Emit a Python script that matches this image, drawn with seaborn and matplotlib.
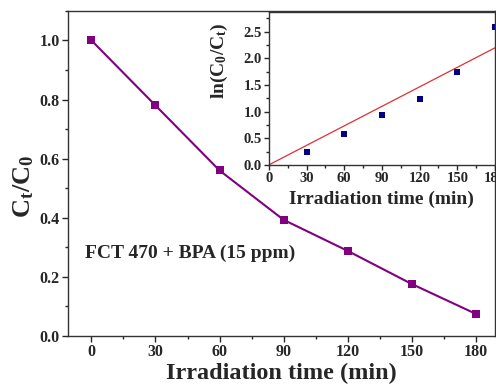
import numpy as np
import pandas as pd
import matplotlib
matplotlib.use("Agg")
import matplotlib.pyplot as plt
from matplotlib.ticker import MultipleLocator
import seaborn as sns

# Data
time_min = [0, 30, 60, 90, 120, 150, 180]
ct_c0 = [1.0, 0.78, 0.56, 0.393, 0.288, 0.176, 0.075]

inset_time = [30, 60, 90, 120, 150, 180]
ln_c0_ct = [0.244, 0.577, 0.934, 1.246, 1.735, 2.58]

main_xticks = [0, 30, 60, 90, 120, 150, 180]
main_yticks = [0.0, 0.2, 0.4, 0.6, 0.8, 1.0]
inset_yticks = [0.0, 0.5, 1.0, 1.5, 2.0, 2.5]

sns.set_style("ticks")
plt.rcParams['font.family'] = ['Liberation Serif', 'DejaVu Serif']
plt.rcParams['font.weight'] = 'bold'
plt.rcParams['mathtext.fontset'] = 'custom'
plt.rcParams['mathtext.rm'] = 'Liberation Serif:bold'
plt.rcParams['mathtext.bf'] = 'Liberation Serif:bold'
plt.rcParams['mathtext.it'] = 'Liberation Serif:bold'

fig = plt.figure(figsize=(4.96, 3.88), dpi=100)
ax = fig.add_axes([0.137, 0.134, 0.861, 0.838])

df = pd.DataFrame({'t': time_min, 'c': ct_c0})
sns.lineplot(data=df, x='t', y='c', ax=ax, color='#800080', lw=1.5,
             marker='s', markersize=6, markeredgewidth=0)
ax.set_xlim(-11, 189)
ax.set_ylim(0, 1.1)
ax.set_xticks(main_xticks)
ax.set_yticks(main_yticks)
ax.xaxis.set_minor_locator(MultipleLocator(15))
ax.yaxis.set_minor_locator(MultipleLocator(0.1))
ax.tick_params(which='major', direction='out', length=4, width=1, labelsize=11.5, pad=2)
ax.tick_params(which='minor', direction='out', length=2.5, width=1)
for lab in ax.get_xticklabels() + ax.get_yticklabels():
    lab.set_fontweight('bold')
ax.set_xlabel('Irradiation time (min)', fontsize=17.5, fontweight='bold', labelpad=2)
ax.set_ylabel(r'$\mathbf{C_t/C_0}$', fontsize=19)
ax.yaxis.set_label_coords(-0.074, 0.46)
for s in ax.spines.values():
    s.set_visible(True)
    s.set_linewidth(1.0)
    s.set_color('#333333')
ax.text(-2.8, 0.278, 'FCT 470 + BPA (15 ppm)', fontsize=14, fontweight='bold',
        va='center', ha='left')

# Inset
axi = fig.add_axes([0.542, 0.575, 0.456, 0.394])
dfi = pd.DataFrame({'t': inset_time, 'v': ln_c0_ct})
sns.scatterplot(data=dfi, x='t', y='v', ax=axi, color='#000080', marker='s',
                s=14, linewidth=0)
x = np.array(inset_time, dtype=float)
y = np.array(ln_c0_ct, dtype=float)
k = (x * y).sum() / (x * x).sum()
fit_x = np.array([0.0, 180.0])
sns.lineplot(x=fit_x, y=k * fit_x, ax=axi, color='#e03030', lw=0.9)
axi.set_xlim(0, 180)
axi.set_ylim(0, 2.87)
axi.set_xticks(main_xticks)
axi.set_yticks(inset_yticks)
axi.xaxis.set_minor_locator(MultipleLocator(15))
axi.yaxis.set_minor_locator(MultipleLocator(0.25))
axi.tick_params(which='major', direction='out', length=3.5, width=1, labelsize=10.5, pad=1.5)
axi.tick_params(which='minor', direction='out', length=2, width=1)
for lab in axi.get_xticklabels() + axi.get_yticklabels():
    lab.set_fontweight('bold')
axi.set_xlabel('Irradiation time (min)', fontsize=14, fontweight='bold', labelpad=4)
axi.set_ylabel(r'$\mathbf{ln(C_0/C_t)}$', fontsize=14)
axi.yaxis.set_label_coords(-0.17, 0.68)
for s in axi.spines.values():
    s.set_linewidth(1.0)
    s.set_color('#333333')

fig.savefig('out.png', dpi=100, facecolor='white')
